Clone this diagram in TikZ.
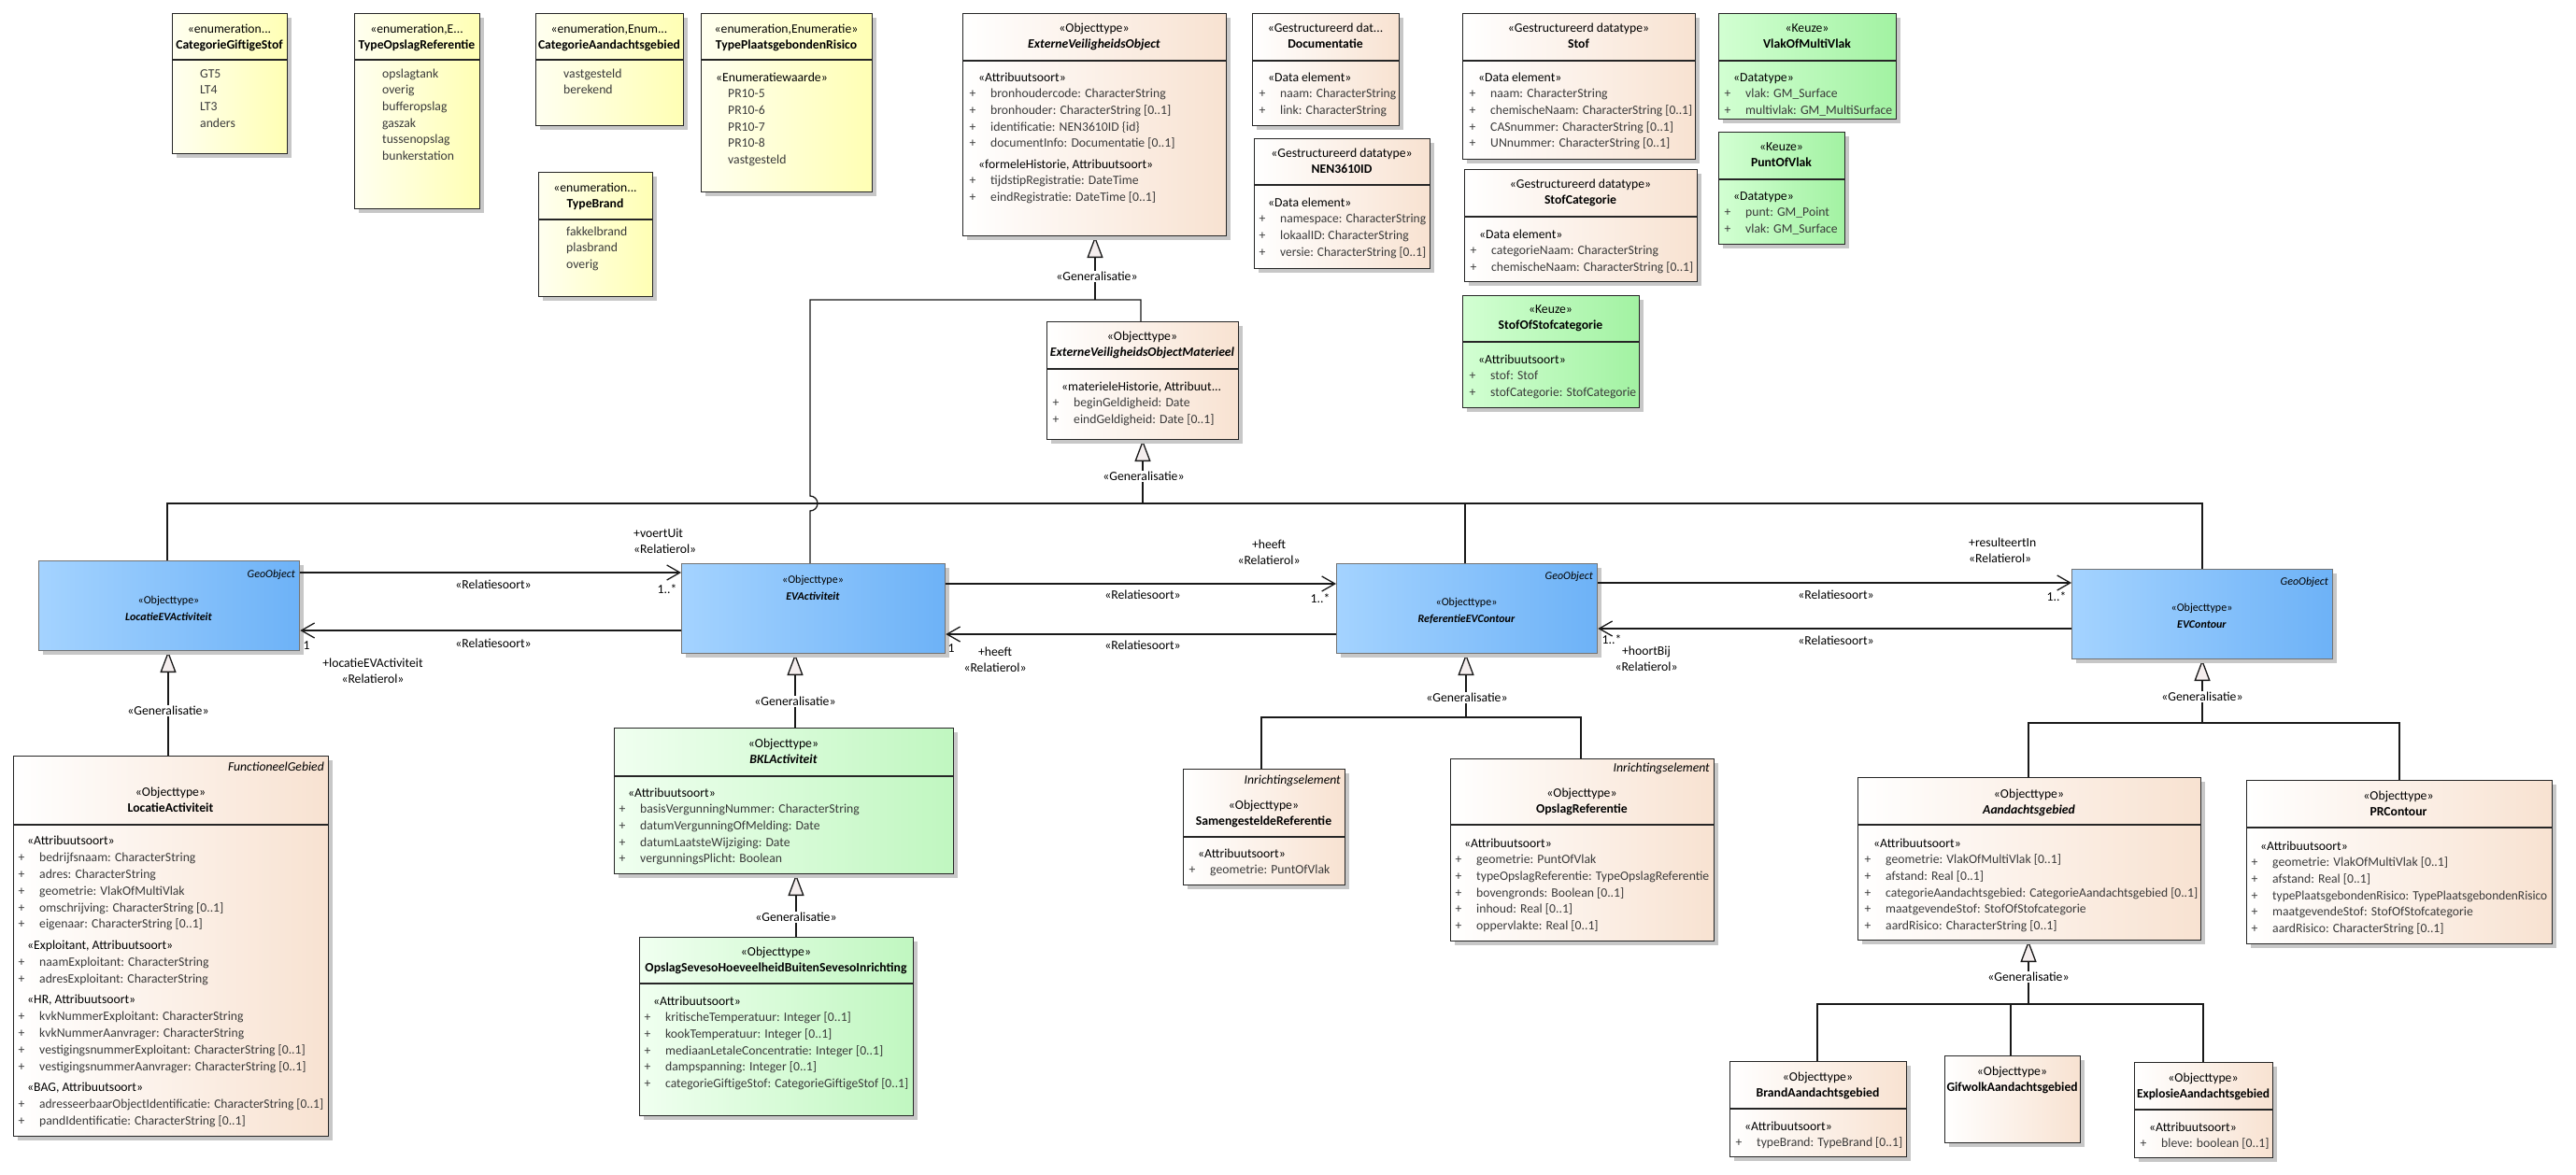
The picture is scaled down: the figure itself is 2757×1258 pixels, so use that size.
\documentclass[tikz,border=0pt]{standalone}
\usepackage{fontspec}
\setmainfont{Carlito}
\usepackage{graphicx}
\usetikzlibrary{arrows.meta,shadows}
\definecolor{enumL}{HTML}{FFFFF0}
\definecolor{enumR}{HTML}{FFFFB4}
\definecolor{peachL}{HTML}{FFFFFF}
\definecolor{peachR}{HTML}{F8E2D1}
\definecolor{keuzeL}{HTML}{D2FFD2}
\definecolor{keuzeR}{HTML}{A2F2A2}
\definecolor{lgL}{HTML}{F0FFF0}
\definecolor{lgR}{HTML}{C0F7C0}
\definecolor{blueL}{HTML}{A4D3FF}
\definecolor{blueR}{HTML}{6DB2F7}
\definecolor{attrc}{HTML}{3A3A3A}
\definecolor{triF}{HTML}{F5EEEE}
\newsavebox\fitbox
\newcommand\fitto[2]{\sbox\fitbox{#2}\ifdim\wd\fitbox>#1\relax\resizebox{#1}{\height}{\usebox\fitbox}\else\usebox\fitbox\fi}
\def\amax{1000pt}
\newcommand\fnt{\fontsize{13.7}{17.6}\selectfont}
\newcommand\fntb{\fontsize{12}{17.6}\selectfont}
\newcommand\fntla{\fontsize{13.7}{17.9}\selectfont}
\newcommand\sth[1]{\strut\hspace*{9.5pt}#1}
\newcommand\attr[1]{\strut{\color{attrc}\makebox[22.5pt][l]{+}\fitto{\amax}{#1}}}
\newcommand\ev[1]{\strut{\color{attrc}#1}}
\newcommand\ubox[6]{\pgfmathsetmacro\bw{#5-#3}\pgfmathsetmacro\bh{#6-#4}\node[#2,minimum width=\bw pt,minimum height=\bh pt] (#1) at (#3,#4) {};}
\newcommand\udiv[3]{\draw[divline] (#1,#3) -- (#2,#3);}
\tikzset{
  box/.style={draw=black!85, line width=1.3pt, anchor=north west, inner sep=0pt,
    drop shadow={shadow xshift=4pt, shadow yshift=-4pt, fill=black!22, opacity=1}},
  enumbox/.style={box, left color=enumL, right color=enumR},
  peachbox/.style={box, left color=peachL, right color=peachR},
  keuzebox/.style={box, left color=keuzeL, right color=keuzeR},
  lgbox/.style={box, left color=lgL, right color=lgR},
  bluebox/.style={box, draw=black!55, left color=blueL, right color=blueR},
  divline/.style={draw=black!85, line width=1.3pt},
  txt/.style={inner sep=0pt, font=\fnt, align=left, anchor=north west},
  hdr/.style={inner sep=0pt, font=\fnt, align=center, anchor=north},
  bhdr/.style={hdr, font=\fntb},
  lbl/.style={inner sep=0pt, font=\fnt},
  glbl/.style={inner sep=1.5pt, font=\fnt, fill=white},
  tag/.style={inner sep=0pt, font=\fntb\itshape, anchor=east},
  tagp/.style={inner sep=0pt, font=\fnt\itshape, anchor=east},
  amax/.code={\def\amax{#1}},
  conn/.style={draw=black!90, line width=1.3pt},
  gentip/.style={conn, -{Triangle[length=23pt, width=17pt, fill=triF]}},
  assoc/.style={conn, -{Straight Barb[length=14pt, width=16pt]}}
}
\begin{document}
\begin{tikzpicture}[x=1pt,y=-1pt]
\fill[white] (0,0) rectangle (2757,1258);
\useasboundingbox (0,0) rectangle (2757,1258);

% ---------- connectors (drawn first) ----------
\coordinate (j1) at (1172,321);
\draw[conn] (867,603) -- (867,547) arc[start angle=-90,end angle=90,radius=8pt] -- (867,321) -- (1221,321) -- (1221,344);
\draw[gentip] (j1) -- (1172,253);
\draw[conn] (179,600) -- (179,539) -- (2357,539) -- (2357,609);
\draw[conn] (1568,539) -- (1568,603);
\draw[gentip] (1223,539) -- (1223,471);
\draw[gentip] (180,809) -- (180,697);
\draw[gentip] (851,779) -- (851,700);
\draw[gentip] (852,1003) -- (852,936);
\draw[conn] (1350,823) -- (1350,768) -- (1692,768) -- (1692,812);
\draw[gentip] (1569,768) -- (1569,700);
\draw[conn] (2171,832) -- (2171,774) -- (2568,774) -- (2568,835);
\draw[gentip] (2357,774) -- (2357,706);
\draw[conn] (1945,1136) -- (1945,1075) -- (2358,1075) -- (2358,1137);
\draw[conn] (2152,1075) -- (2152,1130);
\draw[gentip] (2171,1075) -- (2171,1007);

% ---------- enumerations ----------
\ubox{cgs}{enumbox}{184}{14}{307}{164}
\udiv{184}{307}{64}
\node[hdr] (cgsh) at (245.5,22.7) {\strut«enumeration...\\\textbf{\fitto{117pt}{CategorieGiftigeStof}}};
\node[txt] (cgsv) at (214,70.7) {\ev{GT5}\\\ev{LT4}\\\ev{LT3}\\\ev{anders}};

\ubox{tor}{enumbox}{379}{14}{513}{223}
\udiv{379}{513}{64}
\node[hdr] (torh) at (446,22.7) {\strut«enumeration,E...\\\textbf{\fitto{128pt}{TypeOpslagReferentie}}};
\node[txt] (torv) at (409,70.7) {\ev{opslagtank}\\\ev{overig}\\\ev{bufferopslag}\\\ev{gaszak}\\\ev{tussenopslag}\\\ev{bunkerstation}};

\ubox{cag}{enumbox}{573}{14}{731}{134}
\udiv{573}{731}{64}
\node[hdr] (cagh) at (652,22.7) {\strut«enumeration,Enum...\\\textbf{\fitto{152pt}{CategorieAandachtsgebied}}};
\node[txt] (cagv) at (603,70.7) {\ev{vastgesteld}\\\ev{berekend}};

\ubox{tb}{enumbox}{576}{184}{698}{317}
\udiv{576}{698}{235}
\node[hdr] (tbh) at (637,192.7) {\strut«enumeration...\\\textbf{TypeBrand}};
\node[txt] (tbv) at (606,239.7) {\ev{fakkelbrand}\\\ev{plasbrand}\\\ev{overig}};

\ubox{tpr}{enumbox}{750}{14}{933}{205}
\udiv{750}{933}{64}
\node[hdr] (tprh) at (841.5,22.7) {\strut«enumeration,Enumeratie»\\\textbf{\fitto{177pt}{TypePlaatsgebondenRisico}}};
\node[txt] (tprv) at (766,74.7) {\strut«Enumeratiewaarde»\\\hspace*{13pt}\ev{PR10-5}\\\hspace*{13pt}\ev{PR10-6}\\\hspace*{13pt}\ev{PR10-7}\\\hspace*{13pt}\ev{PR10-8}\\\hspace*{13pt}\ev{vastgesteld}};

% ---------- data types ----------
\ubox{evo}{peachbox}{1030}{14}{1312}{252}
\udiv{1030}{1312}{65}
\node[hdr] (evoh) at (1171,21.7) {\strut«Objecttype»\\\textbf{\textit{ExterneVeiligheidsObject}}};
\node[txt] (evoa) at (1037.5,74.7) {\sth{«Attribuutsoort»}\\\attr{bronhoudercode: CharacterString}\\\attr{bronhouder: CharacterString [0..1]}\\\attr{identificatie: NEN3610ID \{id\}}\\\attr{documentInfo: Documentatie [0..1]}\\[5pt]\sth{«formeleHistorie, Attribuutsoort»}\\\attr{tijdstipRegistratie: DateTime}\\\attr{eindRegistratie: DateTime [0..1]}};

\ubox{doc}{peachbox}{1340}{14}{1497}{134}
\udiv{1340}{1497}{65}
\node[hdr] (doch) at (1418.5,21.7) {\strut«Gestructureerd dat...\\\textbf{Documentatie}};
\node[txt,amax=124pt] (doca) at (1347.5,74.7) {\sth{«Data element»}\\\attr{naam: CharacterString}\\\attr{link: CharacterString}};

\ubox{nen}{peachbox}{1342}{148}{1530}{287}
\udiv{1342}{1530}{198}
\node[hdr] (nenh) at (1436,155.7) {\strut«Gestructureerd datatype»\\\textbf{NEN3610ID}};
\node[txt,amax=156pt] (nena) at (1347.5,208.7) {\sth{«Data element»}\\\attr{namespace: CharacterString}\\\attr{lokaalID: CharacterString}\\\attr{versie: CharacterString [0..1]}};

\ubox{stof}{peachbox}{1565}{14}{1814}{170}
\udiv{1565}{1814}{65}
\node[hdr] (stofh) at (1689.5,21.7) {\strut«Gestructureerd datatype»\\\textbf{Stof}};
\node[txt,amax=216pt] (stofa) at (1572.5,74.7) {\sth{«Data element»}\\\attr{naam: CharacterString}\\\attr{chemischeNaam: CharacterString [0..1]}\\\attr{CASnummer: CharacterString [0..1]}\\\attr{UNnummer: CharacterString [0..1]}};

\ubox{stofcat}{peachbox}{1567}{181}{1816}{301}
\udiv{1567}{1816}{232}
\node[hdr] (stofcath) at (1691.5,188.7) {\strut«Gestructureerd datatype»\\\textbf{StofCategorie}};
\node[txt,amax=216pt] (stofcata) at (1573.5,242.7) {\sth{«Data element»}\\\attr{categorieNaam: CharacterString}\\\attr{chemischeNaam: CharacterString [0..1]}};

\ubox{stofof}{keuzebox}{1565}{316}{1754}{436}
\udiv{1565}{1754}{366}
\node[hdr] (stofofh) at (1659.5,322.7) {\strut«Keuze»\\\textbf{StofOfStofcategorie}};
\node[txt,amax=156pt] (stofofa) at (1572.5,376.7) {\sth{«Attribuutsoort»}\\\attr{stof: Stof}\\\attr{stofCategorie: StofCategorie}};

\ubox{vlak}{keuzebox}{1839}{14}{2029}{127}
\udiv{1839}{2029}{65}
\node[hdr] (vlakh) at (1934,21.7) {\strut«Keuze»\\\textbf{VlakOfMultiVlak}};
\node[txt,amax=157pt] (vlaka) at (1845.5,74.7) {\sth{«Datatype»}\\\attr{vlak: GM\_Surface}\\\attr{multivlak: GM\_MultiSurface}};

\ubox{punt}{keuzebox}{1839}{141}{1974}{261}
\udiv{1839}{1974}{192}
\node[hdr] (punth) at (1906.5,148.7) {\strut«Keuze»\\\textbf{PuntOfVlak}};
\node[txt,amax=102pt] (punta) at (1845.5,201.7) {\sth{«Datatype»}\\\attr{punt: GM\_Point}\\\attr{vlak: GM\_Surface}};

\ubox{evom}{peachbox}{1120}{344}{1325}{470}
\udiv{1120}{1325}{395}
\node[hdr] (evomh) at (1222.5,351.7) {\strut«Objecttype»\\\textbf{\textit{\fitto{199pt}{ExterneVeiligheidsObjectMaterieel}}}};
\node[txt] (evoma) at (1126.5,405.7) {\sth{«materieleHistorie, Attribuut...}\\\attr{beginGeldigheid: Date}\\\attr{eindGeldigheid: Date [0..1]}};

% ---------- GeoObjects (blue) ----------
\ubox{leva}{bluebox}{41}{600}{320}{696}
\node[tag] (levat) at (316,615) {GeoObject};
\node[bhdr] (levah) at (180.5,634.2) {\strut«Objecttype»\\\textbf{\textit{LocatieEVActiviteit}}};

\ubox{eva}{bluebox}{729}{603}{1011}{699}
\node[bhdr] (evah) at (870,612.2) {\strut«Objecttype»\\\textbf{\textit{EVActiviteit}}};

\ubox{refc}{bluebox}{1430}{603}{1709}{699}
\node[tag] (refct) at (1705,617) {GeoObject};
\node[bhdr] (refch) at (1569.5,636.2) {\strut«Objecttype»\\\textbf{\textit{ReferentieEVContour}}};

\ubox{evc}{bluebox}{2217}{609}{2496}{705}
\node[tag] (evct) at (2492,623) {GeoObject};
\node[bhdr] (evch) at (2356.5,642.2) {\strut«Objecttype»\\\textbf{\textit{EVContour}}};

% ---------- classes ----------
\ubox{la}{peachbox}{14}{809}{351}{1216}
\node[tagp] (lat) at (347,821) {FunctioneelGebied};
\udiv{14}{351}{883}
\node[hdr] (lah) at (182.5,839.7) {\strut«Objecttype»\\\textbf{LocatieActiviteit}};
\node[txt,font=\fntla,amax=304pt] (laa) at (19.5,891.7) {\sth{«Attribuutsoort»}\\\attr{bedrijfsnaam: CharacterString}\\\attr{adres: CharacterString}\\\attr{geometrie: VlakOfMultiVlak}\\\attr{omschrijving: CharacterString [0..1]}\\\attr{eigenaar: CharacterString [0..1]}\\[4.5pt]\sth{«Exploitant, Attribuutsoort»}\\\attr{naamExploitant: CharacterString}\\\attr{adresExploitant: CharacterString}\\[4.5pt]\sth{«HR, Attribuutsoort»}\\\attr{kvkNummerExploitant: CharacterString}\\\attr{kvkNummerAanvrager: CharacterString}\\\attr{vestigingsnummerExploitant: CharacterString [0..1]}\\\attr{vestigingsnummerAanvrager: CharacterString [0..1]}\\[4.5pt]\sth{«BAG, Attribuutsoort»}\\\attr{adresseerbaarObjectIdentificatie: CharacterString [0..1]}\\\attr{pandIdentificatie: CharacterString [0..1]}};

\ubox{bkl}{lgbox}{657}{779}{1020}{935}
\udiv{657}{1020}{831}
\node[hdr] (bklh) at (838.5,787.7) {\strut«Objecttype»\\\textbf{\textit{BKLActiviteit}}};
\node[txt] (bkla) at (662.5,840.7) {\sth{«Attribuutsoort»}\\\attr{basisVergunningNummer: CharacterString}\\\attr{datumVergunningOfMelding: Date}\\\attr{datumLaatsteWijziging: Date}\\\attr{vergunningsPlicht: Boolean}};

\ubox{oss}{lgbox}{684}{1003}{977}{1194}
\udiv{684}{977}{1053}
\node[hdr] (ossh) at (830.5,1010.7) {\strut«Objecttype»\\\textbf{\fitto{288pt}{OpslagSevesoHoeveelheidBuitenSevesoInrichting}}};
\node[txt,amax=260pt] (ossa) at (689.5,1063.7) {\sth{«Attribuutsoort»}\\\attr{kritischeTemperatuur: Integer [0..1]}\\\attr{kookTemperatuur: Integer [0..1]}\\\attr{mediaanLetaleConcentratie: Integer [0..1]}\\\attr{dampspanning: Integer [0..1]}\\\attr{categorieGiftigeStof: CategorieGiftigeStof [0..1]}};

\ubox{sam}{peachbox}{1266}{823}{1439}{947}
\node[tagp] (samt) at (1435,836) {Inrichtingselement};
\udiv{1266}{1439}{896}
\node[hdr] (samh) at (1352.5,853.7) {\strut«Objecttype»\\\textbf{\fitto{167pt}{SamengesteldeReferentie}}};
\node[txt] (sama) at (1272.5,905.7) {\sth{«Attribuutsoort»}\\\attr{geometrie: PuntOfVlak}};

\ubox{opr}{peachbox}{1552}{812}{1834}{1007}
\node[tagp] (oprt) at (1830,823) {Inrichtingselement};
\udiv{1552}{1834}{883}
\node[hdr] (oprh) at (1693,840.7) {\strut«Objecttype»\\\textbf{OpslagReferentie}};
\node[txt,amax=249pt] (opra) at (1557.5,894.7) {\sth{«Attribuutsoort»}\\\attr{geometrie: PuntOfVlak}\\\attr{typeOpslagReferentie: TypeOpslagReferentie}\\\attr{bovengronds: Boolean [0..1]}\\\attr{inhoud: Real [0..1]}\\\attr{oppervlakte: Real [0..1]}};

\ubox{aan}{peachbox}{1988}{832}{2355}{1006}
\udiv{1988}{2355}{883}
\node[hdr] (aanh) at (2171.5,841.7) {\strut«Objecttype»\\\textbf{\textit{Aandachtsgebied}}};
\node[txt,amax=334pt] (aana) at (1995.5,894.7) {\sth{«Attribuutsoort»}\\\attr{geometrie: VlakOfMultiVlak [0..1]}\\\attr{afstand: Real [0..1]}\\\attr{categorieAandachtsgebied: CategorieAandachtsgebied [0..1]}\\\attr{maatgevendeStof: StofOfStofcategorie}\\\attr{aardRisico: CharacterString [0..1]}};

\ubox{prc}{peachbox}{2404}{835}{2731}{1010}
\udiv{2404}{2731}{886}
\node[hdr] (prch) at (2567,843.7) {\strut«Objecttype»\\\textbf{PRContour}};
\node[txt,amax=294pt] (prca) at (2409.5,897.7) {\sth{«Attribuutsoort»}\\\attr{geometrie: VlakOfMultiVlak [0..1]}\\\attr{afstand: Real [0..1]}\\\attr{typePlaatsgebondenRisico: TypePlaatsgebondenRisico}\\\attr{maatgevendeStof: StofOfStofcategorie}\\\attr{aardRisico: CharacterString [0..1]}};

\ubox{brand}{peachbox}{1851}{1136}{2040}{1238}
\udiv{1851}{2040}{1187}
\node[hdr] (brandh) at (1945.5,1144.7) {\strut«Objecttype»\\\textbf{BrandAandachtsgebied}};
\node[txt,amax=156pt] (branda) at (1857.5,1197.7) {\sth{«Attribuutsoort»}\\\attr{typeBrand: TypeBrand [0..1]}};

\ubox{gif}{peachbox}{2081}{1130}{2226}{1223}
\node[hdr] (gifh) at (2153.5,1138.7) {\strut«Objecttype»\\\textbf{\fitto{140pt}{GifwolkAandachtsgebied}}};

\ubox{expl}{peachbox}{2284}{1137}{2432}{1239}
\udiv{2284}{2432}{1188}
\node[hdr] (explh) at (2358,1145.7) {\strut«Objecttype»\\\textbf{\fitto{142pt}{ExplosieAandachtsgebied}}};
\node[txt,amax=116pt] (expla) at (2290.5,1198.7) {\sth{«Attribuutsoort»}\\\attr{bleve: boolean [0..1]}};

% ---------- associations ----------
\draw[assoc] (leva.east |- 0,613) -- (eva.west |- 0,613);
\draw[assoc] (eva.west |- 0,675) -- (leva.east |- 0,675);
\draw[assoc] (eva.east |- 0,625) -- (refc.west |- 0,625);
\draw[assoc] (refc.west |- 0,679) -- (eva.east |- 0,679);
\draw[assoc] (refc.east |- 0,624) -- (evc.west |- 0,624);
\draw[assoc] (evc.west |- 0,673) -- (refc.east |- 0,673);

\node[lbl] (r1) at (528,626) {«Relatiesoort»};
\node[lbl] (r2) at (528,689) {«Relatiesoort»};
\node[lbl] (r3) at (1223,637) {«Relatiesoort»};
\node[lbl] (r4) at (1223,691) {«Relatiesoort»};
\node[lbl] (r5) at (1965,637) {«Relatiesoort»};
\node[lbl] (r6) at (1965,686) {«Relatiesoort»};
\node[lbl] (m1) at (714,631) {1..*};
\node[lbl] (m2) at (328,691) {1};
\node[lbl] (m3) at (1413,641) {1..*};
\node[lbl] (m4) at (1018,694) {1};
\node[lbl] (m5) at (2201,639) {1..*};
\node[lbl] (m6) at (1725,685) {1..*};
\node[txt] (ro1) at (678,562.7) {\strut+voertUit\\«Relatierol»};
\node[hdr] (ro2) at (399,701.7) {\strut+locatieEVActiviteit\\«Relatierol»};
\node[hdr] (ro3) at (1358,574.7) {\strut+heeft\\«Relatierol»};
\node[hdr] (ro4) at (1065,689.7) {\strut+heeft\\«Relatierol»};
\node[txt] (ro5) at (2107,572.7) {\strut+resulteertIn\\«Relatierol»};
\node[hdr] (ro6) at (1762,688.7) {\strut+hoortBij\\«Relatierol»};

% ---------- generalisation labels ----------
\node[glbl] (g1) at (1174,296) {«Generalisatie»};
\node[glbl] (g2) at (1224,510) {«Generalisatie»};
\node[glbl] (g3) at (180,761) {«Generalisatie»};
\node[glbl] (g4) at (851,751) {«Generalisatie»};
\node[glbl] (g5) at (852,982) {«Generalisatie»};
\node[glbl] (g6) at (1570,747) {«Generalisatie»};
\node[glbl] (g7) at (2357,746) {«Generalisatie»};
\node[glbl] (g8) at (2171,1046) {«Generalisatie»};
\end{tikzpicture}
\end{document}
